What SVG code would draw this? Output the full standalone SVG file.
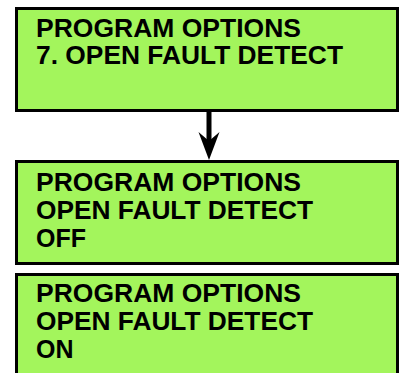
<svg xmlns="http://www.w3.org/2000/svg" width="401" height="373" viewBox="0 0 401 373">
<style>
.box{fill:#A3F55C;stroke:#000;stroke-width:3}
.t{font-family:"Liberation Sans",Arial,sans-serif;font-weight:bold;font-size:25px;fill:#000}
.conn{stroke:#000;stroke-width:5;fill:none}
</style>
<rect width="401" height="373" fill="#fff"/>
<g id="node1">
<rect class="box" x="16.5" y="8.5" width="381" height="102"/>
<text class="t" x="36" y="37" textLength="265" lengthAdjust="spacingAndGlyphs">PROGRAM OPTIONS</text>
<text class="t" x="36" y="64" textLength="307" lengthAdjust="spacingAndGlyphs">7. OPEN FAULT DETECT</text>
</g>
<g id="connectors">
<line class="conn" x1="209" y1="111" x2="209" y2="142"/>
<polygon points="198.5,132 209,141 219.5,132 209,160" fill="#000"/>
</g>
<g id="node2">
<rect class="box" x="16.5" y="161.5" width="381" height="102"/>
<text class="t" x="36" y="191" textLength="265" lengthAdjust="spacingAndGlyphs">PROGRAM OPTIONS</text>
<text class="t" x="36" y="219" textLength="277" lengthAdjust="spacingAndGlyphs">OPEN FAULT DETECT</text>
<text class="t" x="36" y="247">OFF</text>
</g>
<g id="node3">
<rect class="box" x="16.5" y="274.5" width="381" height="110"/>
<text class="t" x="36" y="302" textLength="265" lengthAdjust="spacingAndGlyphs">PROGRAM OPTIONS</text>
<text class="t" x="36" y="330" textLength="277" lengthAdjust="spacingAndGlyphs">OPEN FAULT DETECT</text>
<text class="t" x="36" y="358">ON</text>
</g>
</svg>
